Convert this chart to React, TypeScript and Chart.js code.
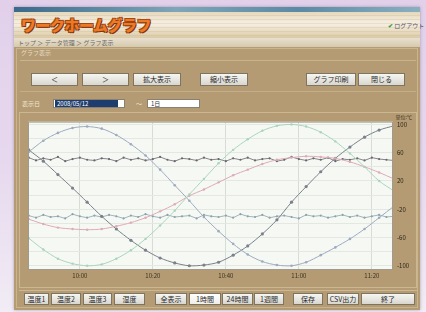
import React, { useEffect, useRef } from "react";
import { Chart, registerables } from "chart.js";
Chart.register(...registerables);

// ---- data ----
const xsCurve = [-14, -10, -6, -2, 2, 6, 10, 14, 18, 22, 26, 30, 34, 38, 42, 46, 50, 54, 58, 62, 66, 70, 74, 78, 82, 86];
const xsNoise = [-14, -12, -10, -8, -6, -4, -2, 0, 2, 4, 6, 8, 10, 12, 14, 16, 18, 20, 22, 24, 26, 28, 30, 32, 34, 36, 38, 40, 42, 44, 46, 48, 50, 52, 54, 56, 58, 60, 62, 64, 66, 68, 70, 72, 74, 76, 78, 80, 82, 84, 86];

const seriesBlue = [61, 77, 88, 95, 97, 94, 85, 72, 56, 36, 14, -8, -31, -51, -69, -84, -94, -99, -100, -95, -85, -74, -62, -48, -32, -16];
const seriesDark = [64, 48, 29, 10, -10, -30, -48, -64, -78, -89, -96, -100, -99, -95, -85, -72, -55, -35, -10, 12, 33, 52, 68, 82, 92, 98];
const seriesPink = [-34, -41, -46, -48, -49, -48, -44, -39, -32, -23, -13, -1, 8, 18, 28, 36, 44, 50, 53, 55, 54, 52, 47, 40, 32, 23];
const seriesGreen = [-61, -77, -90, -97, -100, -98, -90, -78, -62, -43, -22, 1, 23, 45, 64, 79, 91, 98, 100, 97, 89, 76, 59, 40, 20, 6];
const seriesUpper = [53, 49, 52, 50, 54, 48, 51, 53, 50, 49, 52, 51, 48, 53, 50, 52, 49, 51, 54, 50, 48, 52, 51, 49, 53, 50, 51, 48, 52, 50, 53, 49, 51, 52, 48, 50, 54, 51, 49, 52, 50, 53, 48, 51, 50, 52, 49, 53, 51, 50, 49];
const seriesLower = [-29, -32, -28, -31, -30, -33, -27, -30, -32, -29, -31, -28, -30, -33, -29, -31, -27, -30, -32, -28, -31, -30, -29, -33, -28, -30, -31, -29, -32, -27, -30, -31, -28, -32, -30, -29, -31, -33, -28, -30, -29, -32, -30, -28, -31, -29, -32, -30, -28, -31, -30];

const xTickValues = [0, 20, 40, 60, 80];
const xTickLabels = ["10:00", "10:20", "10:40", "11:00", "11:20"];
const yTickValues = [-100, -80, -60, -40, -20, 0, 20, 40, 60, 80, 100];
const yLabelled = [100, 60, 20, -20, -60, -100];

const topButtons = ["＜", "＞", "拡大表示", "縮小表示", "グラフ印刷", "閉じる"];
const bottomButtons = ["温度1", "温度2", "温度3", "湿度", "全表示", "1時間", "24時間", "1週間", "保存", "CSV出力", "終了"];

const FONT = '"Noto Sans CJK JP", "Noto Sans", sans-serif';

function pts(xs: number[], ys: number[]) {
  return xs.map((x, i) => ({ x, y: ys[i] }));
}

const plotBg = {
  id: "plotBg",
  beforeDraw(chart: any) {
    const { ctx, chartArea: a } = chart;
    ctx.save();
    ctx.fillStyle = "#f6f9f3";
    ctx.fillRect(a.left, a.top, a.right - a.left, a.bottom - a.top);
    ctx.restore();
  },
  afterDraw(chart: any) {
    const { ctx, chartArea: a } = chart;
    ctx.save();
    ctx.strokeStyle = "#a09a8c";
    ctx.lineWidth = 1;
    ctx.strokeRect(a.left + 0.5, a.top + 0.5, a.right - a.left - 1, a.bottom - a.top - 1);
    ctx.restore();
  },
};

function ChartBox() {
  const ref = useRef<HTMLCanvasElement>(null);
  useEffect(() => {
    const ds = (data: number[], xs: number[], color: string, r: number, w: number) => ({
      data: pts(xs, data),
      borderColor: color,
      backgroundColor: color,
      borderWidth: w,
      pointRadius: r,
      pointBorderWidth: 0,
      tension: 0.3,
      fill: false,
    });
    const chart = new Chart(ref.current!, {
      type: "line",
      data: {
        datasets: [
          ds(seriesGreen, xsCurve, "#aad4bc", 1.2, 1),
          ds(seriesPink, xsCurve, "#deaab8", 1.2, 1),
          ds(seriesBlue, xsCurve, "#9eaac0", 1.3, 1),
          ds(seriesDark, xsCurve, "#7a808c", 1.6, 1),
          { ...ds(seriesUpper, xsNoise, "#6a6670", 1.1, 0.8), tension: 0 },
          { ...ds(seriesLower, xsNoise, "#8aa2ae", 1.1, 0.8), tension: 0 },
        ],
      },
      options: {
        animation: false,
        responsive: false,
        devicePixelRatio: 1,
        layout: { padding: { left: 6, top: 6, right: 0, bottom: 0 } },
        plugins: { legend: { display: false }, tooltip: { enabled: false } },
        scales: {
          x: {
            type: "linear",
            min: -14.2,
            max: 85.8,
            position: "bottom",
            afterBuildTicks: (s: any) => {
              s.ticks = xTickValues.map((v) => ({ value: v }));
            },
            afterFit: (s: any) => {
              s.height = 12;
            },
            grid: { color: "#d8dcd6", lineWidth: 1, drawTicks: false },
            border: { display: false },
            ticks: {
              padding: 2,
              color: "#3a3020",
              font: { size: 6, family: FONT },
              callback: (v: any) => {
                const i = xTickValues.indexOf(Number(v));
                return i >= 0 ? xTickLabels[i] : "";
              },
            },
          },
          y: {
            type: "linear",
            min: -106,
            max: 104,
            position: "right",
            afterBuildTicks: (s: any) => {
              s.ticks = yTickValues.map((v) => ({ value: v }));
            },
            afterFit: (s: any) => {
              s.width = 21;
            },
            grid: { color: "#e4e8e2", lineWidth: 1, drawTicks: false },
            border: { display: false },
            ticks: {
              padding: 4,
              color: "#2a2418",
              font: { size: 6, family: FONT },
              callback: (v: any) => (yLabelled.includes(Number(v)) ? String(v) : ""),
            },
          },
        },
      },
      plugins: [plotBg],
    } as any);
    return () => chart.destroy();
  }, []);
  return (
    <canvas
      ref={ref}
      width={392}
      height={168}
      style={{ position: "absolute", left: 22, top: 114, width: 392, height: 168 }}
    />
  );
}

const abs = (l: number, t: number, w: number, h: number, extra: any = {}) => ({
  position: "absolute" as const,
  left: l,
  top: t,
  width: w,
  height: h,
  ...extra,
});

function Btn({ l, t, w, h, text, active }: { l: number; t: number; w: number; h: number; text: string; active?: boolean }) {
  return (
    <div
      style={abs(l, t, w, h, {
        boxSizing: "border-box",
        background: active ? "linear-gradient(#ffffff,#eeeeea)" : "linear-gradient(#f6f6f2,#d8d6ce)",
        border: "1px solid #7e7462",
        fontSize: 7,
        lineHeight: `${h - 2}px`,
        textAlign: "center",
        color: "#2a2a2a",
        fontFamily: FONT,
        overflow: "hidden",
        whiteSpace: "nowrap",
      })}
    >
      {text}
    </div>
  );
}

export default function App() {
  const topPos = [
    [31, 47],
    [82, 47],
    [133, 48],
    [200, 48],
    [306, 50],
    [358, 47],
  ];
  const botPos = [
    [24, 25],
    [51, 30],
    [83, 29],
    [114, 31],
    [155, 32],
    [189, 32],
    [222, 31],
    [254, 30],
    [293, 30],
    [327, 32],
    [361, 54],
  ];
  return (
    <div
      style={{
        position: "fixed",
        left: 0,
        top: 0,
        width: 426,
        height: 312,
        overflow: "hidden",
        background: "linear-gradient(to bottom, #e2d0ea 0%, #e6d8ee 50%, #f1ecf5 100%)",
        fontFamily: FONT,
      }}
    >
      {/* window */}
      <div style={abs(14, 7, 406, 303, { background: "#b49b73", boxShadow: "0 0 3px rgba(80,60,90,0.4)" })} />
      {/* title bar */}
      <div style={abs(14, 7, 406, 5, { background: "linear-gradient(to right, #3a6a8a, #7ea6b8 40%, #5a8aa4 70%, #8ab0c0)" })} />
      {/* header */}
      <div
        style={abs(14, 12, 406, 26, {
          background:
            "repeating-linear-gradient(to bottom, rgba(255,255,255,0) 0px, rgba(255,255,255,0) 3px, rgba(190,170,130,0.25) 3px, rgba(190,170,130,0.25) 4px), linear-gradient(to bottom, #e6d8bc, #f6efe2 45%, #dccaa6)",
        })}
      />
      <div
        style={abs(21, 15, 150, 20, {
          fontSize: 15,
          fontWeight: 900,
          color: "#f07a24",
          letterSpacing: -0.5,
          lineHeight: "20px",
          textShadow: "1px 1px 0 #7a3410, -1px -1px 0 #a04a18, 1px -1px 0 #a04a18, -1px 1px 0 #a04a18",
          whiteSpace: "nowrap",
        })}
      >
        ワークホームグラフ
      </div>
      <div style={abs(388, 21, 30, 10, { fontSize: 6, color: "#556", lineHeight: "10px", whiteSpace: "nowrap" })}>
        <span style={{ color: "#3a9a3a", fontWeight: 700 }}>✔</span> ログアウト
      </div>
      {/* menu row */}
      <div style={abs(14, 38, 406, 9, { background: "linear-gradient(#e8e0cf,#d6c9ad)" })} />
      <div style={abs(18, 38, 140, 9, { fontSize: 6, color: "#6a6a6a", lineHeight: "9px", whiteSpace: "nowrap" })}>
        トップ ＞ データ管理 ＞ グラフ表示
      </div>
      {/* panel */}
      <div style={abs(16, 48, 402, 260, { border: "1px solid #c9b48e", boxSizing: "border-box" })} />
      <div style={abs(21, 49, 60, 8, { fontSize: 6, color: "#e8dcc4", lineHeight: "8px" })}>グラフ表示</div>
      <div style={abs(20, 60, 396, 1, { background: "#c8b48e" })} />
      {topButtons.map((t, i) => (
        <Btn key={i} l={topPos[i][0]} t={73} w={topPos[i][1]} h={13} text={t} />
      ))}
      <div style={abs(20, 91, 396, 1, { background: "#c4ae88" })} />
      <div style={abs(22, 99, 30, 9, { fontSize: 6, color: "#f0e6d2", lineHeight: "9px" })}>表示日</div>
      <div style={abs(53, 99, 72, 9, { background: "#fff", border: "1px solid #8a8070", boxSizing: "border-box" })} />
      <div
        style={abs(55, 100, 63, 7, {
          background: "#1e3c6e",
          color: "#fff",
          fontSize: 6,
          lineHeight: "7px",
          paddingLeft: 2,
          boxSizing: "border-box",
        })}
      >
        2008/05/12
      </div>
      <div style={abs(136, 99, 8, 9, { fontSize: 6, color: "#f0e6d2", lineHeight: "9px" })}>～</div>
      <div
        style={abs(147, 99, 53, 9, {
          background: "#fff",
          border: "1px solid #8a8070",
          boxSizing: "border-box",
          fontSize: 6,
          lineHeight: "7px",
          paddingLeft: 3,
          color: "#333",
        })}
      >
        1日
      </div>
      {/* chart group */}
      <div style={abs(19, 112, 398, 176, { border: "1px solid #cbb790", boxSizing: "border-box" })} />
      <div style={abs(376, 113, 36, 7, { fontSize: 5, color: "#3a3020", lineHeight: "7px", textAlign: "right" })}>
        単位:℃
      </div>
      <ChartBox />
      {/* bottom row */}
      <div style={abs(19, 290, 398, 1, { background: "#cbb790" })} />
      {bottomButtons.map((t, i) => (
        <Btn key={i} l={botPos[i][0]} t={293} w={botPos[i][1]} h={12} text={t} active={i === 5} />
      ))}
    </div>
  );
}
